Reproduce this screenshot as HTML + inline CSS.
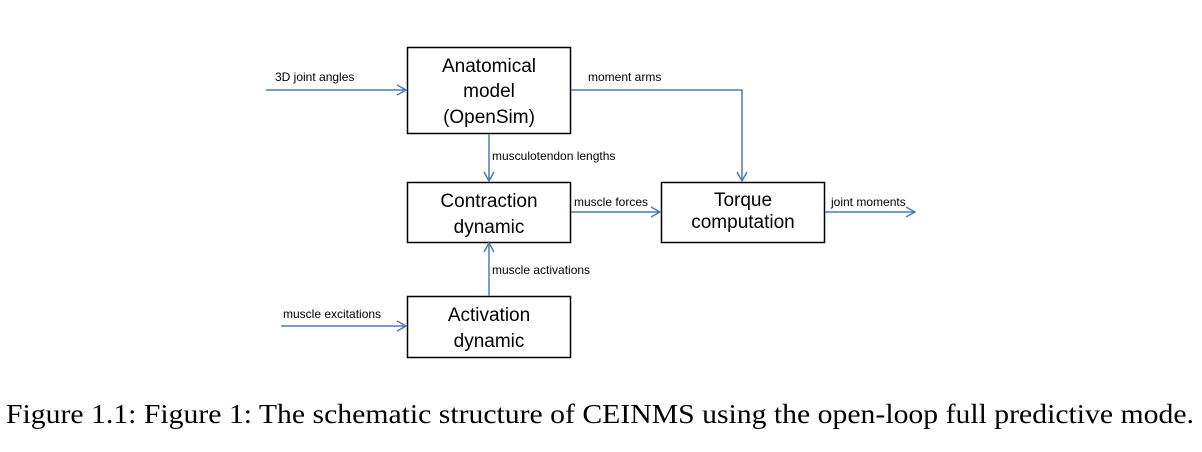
<!DOCTYPE html>
<html><head><style>
body{margin:0;background:#fff;}
</style></head><body>
<svg width="1202" height="447" xmlns="http://www.w3.org/2000/svg">
<defs>
<marker id="a" markerWidth="12" markerHeight="12" refX="10" refY="6" orient="auto" markerUnits="userSpaceOnUse">
<path d="M1,1 L10,6 L1,11" fill="none" stroke="#4f7ab0" stroke-width="1.5"/>
</marker>
</defs>
<g fill="#fff" stroke="#000" stroke-width="1.5">
<rect x="407.5" y="47.5" width="163" height="86"/>
<rect x="407.5" y="182.5" width="163" height="60"/>
<rect x="661.5" y="182.5" width="163" height="60"/>
<rect x="407.5" y="296.5" width="163" height="61"/>
</g>
<g fill="none" stroke="#4f7ab0" stroke-width="1.5" marker-end="url(#a)">
<path d="M266 90 H406"/>
<path d="M571 90 H742 V181"/>
<path d="M489 134 V181"/>
<path d="M571 212 H660"/>
<path d="M825 212 H915"/>
<path d="M489 296 V243"/>
<path d="M281 326 H406"/>
</g>
<g font-family="'Liberation Sans',sans-serif" font-size="19" text-anchor="middle" fill="#000">
<text x="489" y="72">Anatomical</text>
<text x="489" y="97">model</text>
<text x="489" y="123">(OpenSim)</text>
<text x="489" y="207">Contraction</text>
<text x="489" y="233">dynamic</text>
<text x="743" y="206">Torque</text>
<text x="743" y="228">computation</text>
<text x="489" y="321">Activation</text>
<text x="489" y="347">dynamic</text>
</g>
<g font-family="'Liberation Sans',sans-serif" font-size="12" fill="#000">
<text x="275" y="81">3D joint angles</text>
<text x="588" y="81">moment arms</text>
<text x="492" y="160">musculotendon lengths</text>
<text x="574" y="206">muscle forces</text>
<text x="831" y="206">joint moments</text>
<text x="492" y="274">muscle activations</text>
<text x="283" y="318">muscle excitations</text>
</g>
<text x="600" y="423" text-anchor="middle" font-family="'Liberation Serif','Times New Roman',serif" font-size="27" textLength="1188" lengthAdjust="spacingAndGlyphs">Figure 1.1: Figure 1: The schematic structure of CEINMS using the open-loop full predictive mode.</text>
</svg>
</body></html>
